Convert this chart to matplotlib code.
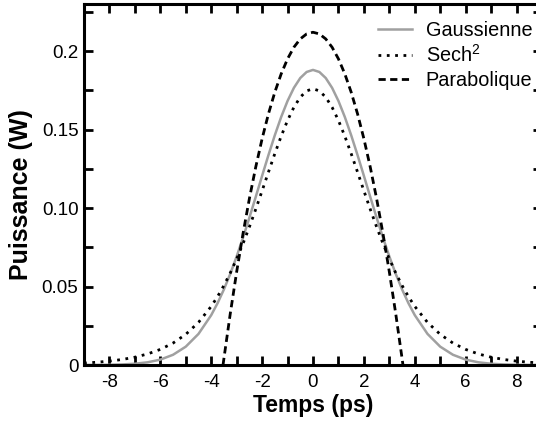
import numpy as np
import matplotlib
matplotlib.use("Agg")
import matplotlib.pyplot as plt
from matplotlib.ticker import MultipleLocator, FixedLocator, FixedFormatter

plt.rcParams['font.family'] = ['Liberation Sans', 'DejaVu Sans']
plt.rcParams['axes.unicode_minus'] = False
plt.rcParams['mathtext.fontset'] = 'custom'
plt.rcParams['mathtext.rm'] = 'Liberation Sans'
plt.rcParams['mathtext.it'] = 'Liberation Sans'

# Time axis (ps), finer around the peak
temps = [-9.0, -8.5, -8.0, -7.5, -7.0, -6.5, -6.0, -5.5, -5.0, -4.5,
         -4.0, -3.75, -3.5, -3.25, -3.0, -2.75, -2.5, -2.25, -2.0, -1.75,
         -1.5, -1.25, -1.0, -0.75, -0.5, -0.25, 0.0, 0.25, 0.5, 0.75,
         1.0, 1.25, 1.5, 1.75, 2.0, 2.25, 2.5, 2.75, 3.0, 3.25,
         3.5, 3.75, 4.0, 4.5, 5.0, 5.5, 6.0, 6.5, 7.0, 7.5,
         8.0, 8.5, 9.0]

# Power (W), Gaussian pulse
gaussienne = [0.00002, 0.00006, 0.00015, 0.00036, 0.00081, 0.00172, 0.00344, 0.00652, 0.01169, 0.01982,
              0.03177, 0.03941, 0.04820, 0.05814, 0.06916, 0.08114, 0.09388, 0.10712, 0.12054, 0.13378,
              0.14641, 0.15804, 0.16823, 0.17661, 0.18285, 0.18670, 0.18800, 0.18670, 0.18285, 0.17661,
              0.16823, 0.15804, 0.14641, 0.13378, 0.12054, 0.10712, 0.09388, 0.08114, 0.06916, 0.05814,
              0.04820, 0.03941, 0.03177, 0.01982, 0.01169, 0.00652, 0.00344, 0.00172, 0.00081, 0.00036,
              0.00015, 0.00006, 0.00002]

# Power (W), sech^2 pulse
sech2 = [0.00123, 0.00175, 0.00248, 0.00352, 0.00498, 0.00704, 0.00994, 0.01397, 0.01954, 0.02715,
         0.03735, 0.04360, 0.05070, 0.05869, 0.06759, 0.07738, 0.08798, 0.09926, 0.11101, 0.12294,
         0.13468, 0.14580, 0.15581, 0.16424, 0.17064, 0.17464, 0.17600, 0.17464, 0.17064, 0.16424,
         0.15581, 0.14580, 0.13468, 0.12294, 0.11101, 0.09926, 0.08798, 0.07738, 0.06759, 0.05869,
         0.05070, 0.04360, 0.03735, 0.02715, 0.01954, 0.01397, 0.00994, 0.00704, 0.00498, 0.00352,
         0.00248, 0.00175, 0.00123]

# Parabolic pulse only exists inside its support
temps_para = [-3.536, -3.5, -3.25, -3.0, -2.75, -2.5, -2.25, -2.0, -1.75, -1.5,
              -1.25, -1.0, -0.75, -0.5, -0.25, 0.0, 0.25, 0.5, 0.75, 1.0,
              1.25, 1.5, 1.75, 2.0, 2.25, 2.5, 2.75, 3.0, 3.25, 3.5, 3.536]
parabolique = [0.0, 0.00424, 0.03286, 0.05936, 0.08374, 0.10600, 0.12614, 0.14416, 0.16006, 0.17384,
               0.18550, 0.19504, 0.20246, 0.20776, 0.21094, 0.21200, 0.21094, 0.20776, 0.20246, 0.19504,
               0.18550, 0.17384, 0.16006, 0.14416, 0.12614, 0.10600, 0.08374, 0.05936, 0.03286, 0.00424, 0.0]

x_ticks = [-8, -6, -4, -2, 0, 2, 4, 6, 8]
y_ticks = [0, 0.05, 0.10, 0.15, 0.2]
y_tick_labels = ['0', '0.05', '0.10', '0.15', '0.2']

fig = plt.figure(figsize=(5.36, 4.21), dpi=100)
ax = fig.add_axes([0.1567, 0.1330, 0.8545, 0.8575])

ax.plot(temps, gaussienne, color='#a0a0a0', linewidth=1.8, label='Gaussienne')
ax.plot(temps, sech2, color='black', linewidth=2.0, linestyle=(0, (1, 2)), label='Sech$^2$')
ax.plot(temps_para, parabolique, color='black', linewidth=2.0, linestyle=(0, (2.6, 1.6)), label='Parabolique')

ax.set_xlim(-9, 9)
ax.set_ylim(0, 0.23)

ax.xaxis.set_major_locator(FixedLocator(x_ticks))
ax.xaxis.set_minor_locator(MultipleLocator(1))
ax.yaxis.set_major_locator(FixedLocator(y_ticks))
ax.yaxis.set_major_formatter(FixedFormatter(y_tick_labels))
ax.yaxis.set_minor_locator(MultipleLocator(0.025))

for side in ['left', 'right', 'top', 'bottom']:
    ax.spines[side].set_linewidth(2.2)

ax.tick_params(which='both', direction='in', top=True, right=True,
               length=6.5, width=2.0, labelsize=13.5)
ax.tick_params(axis='x', which='major', pad=6.5)
ax.tick_params(axis='y', which='major', pad=4)

ax.set_xlabel('Temps (ps)', fontsize=16.5, fontweight='bold', labelpad=2)
ax.set_ylabel('Puissance (W)', fontsize=18, fontweight='bold')
ax.yaxis.set_label_coords(-0.112, 0.472)

ax.legend(loc='upper left', bbox_to_anchor=(0.705, 0.951), bbox_transform=fig.transFigure,
          frameon=False, fontsize=14.3, handlelength=1.7, handletextpad=0.7,
          labelspacing=0.24, borderpad=0, borderaxespad=0)

fig.savefig('out.png', dpi=100)
